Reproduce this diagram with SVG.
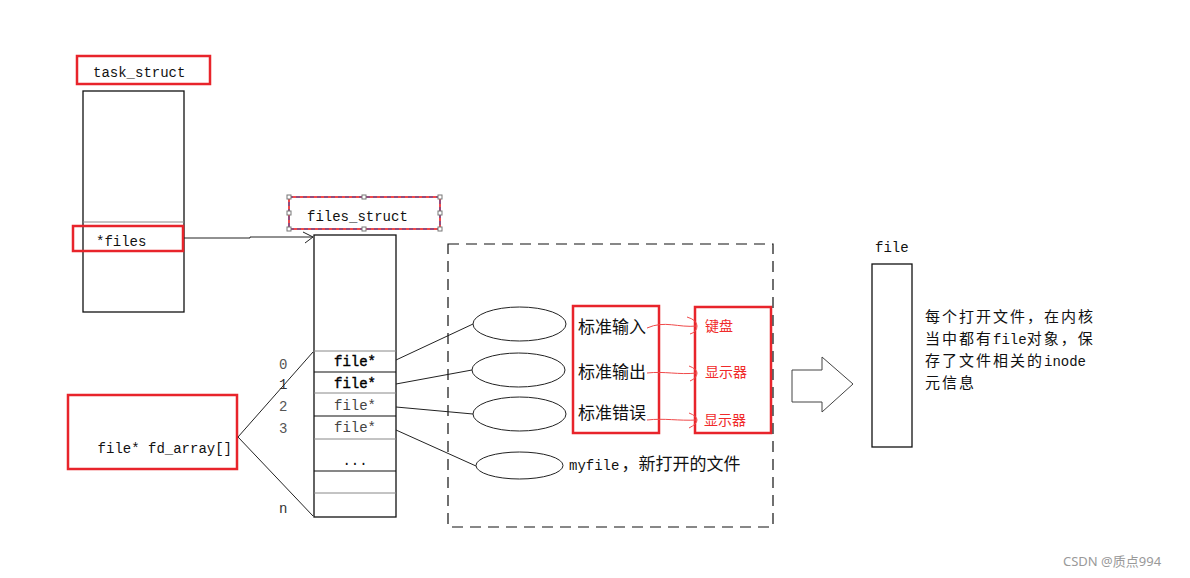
<svg xmlns="http://www.w3.org/2000/svg" width="1190" height="578" viewBox="0 0 1190 578">
<style>
.mono{font-family:"Liberation Mono","DejaVu Sans Mono",monospace;font-size:14px;fill:#111}
.cjk{font-family:"Noto Sans CJK SC","Noto Sans CJK JP",sans-serif;font-size:17px;fill:#111}
.cjk2{font-family:"Noto Sans CJK SC","Noto Sans CJK JP",sans-serif;font-size:15px;letter-spacing:2px;fill:#111}
.red{fill:none;stroke:#e8242b;stroke-width:2.5}
.box{fill:none;stroke:#111;stroke-width:1.3}
.thin{fill:none;stroke:#222;stroke-width:1}
.rtext{font-family:"Noto Sans CJK SC",sans-serif;font-size:14px;fill:#f02a2a}
.rline{fill:none;stroke:#f04a4a;stroke-width:1}
.handle{fill:#fff;stroke:#777;stroke-width:1}
</style>
<rect width="1190" height="578" fill="#fff"/>

<g id="task_struct">
<rect class="red" x="77" y="56" width="133" height="28"/>
<text class="mono" x="93" y="77">task_struct</text>
<rect class="box" x="83" y="91" width="101" height="221"/>
<line x1="83" y1="222" x2="184" y2="222" stroke="#888" stroke-width="1"/>
<line x1="83" y1="251" x2="184" y2="251" stroke="#111" stroke-width="1.3"/>
<rect class="red" x="73" y="226" width="110" height="25"/>
<text class="mono" x="96" y="246">*files</text>
</g>

<g id="files_struct_label">
<rect x="289" y="197" width="151" height="32" fill="none" stroke="#f04a4a" stroke-width="2"/>
<rect x="289" y="197" width="151" height="32" fill="none" stroke="#3a4fb0" stroke-width="1" stroke-dasharray="4,3"/>
<text class="mono" x="307" y="221">files_struct</text>
<rect class="handle" x="287" y="195" width="4" height="4"/>
<rect class="handle" x="362" y="195" width="4" height="4"/>
<rect class="handle" x="438" y="195" width="4" height="4"/>
<rect class="handle" x="287" y="211" width="4" height="4"/>
<rect class="handle" x="438" y="211" width="4" height="4"/>
<rect class="handle" x="287" y="227" width="4" height="4"/>
<rect class="handle" x="362" y="227" width="4" height="4"/>
<rect class="handle" x="438" y="227" width="4" height="4"/>
</g>

<g id="files_struct_table">
<rect class="box" x="314" y="235" width="82" height="282"/>
<line x1="314" y1="351" x2="396" y2="351" stroke="#888"/>
<line x1="314" y1="372" x2="396" y2="372" stroke="#111" stroke-width="1.2"/>
<line x1="314" y1="393" x2="396" y2="393" stroke="#888"/>
<line x1="314" y1="416" x2="396" y2="416" stroke="#111" stroke-width="1.2"/>
<line x1="314" y1="439" x2="396" y2="439" stroke="#888"/>
<line x1="314" y1="471" x2="396" y2="471" stroke="#111" stroke-width="1.2"/>
<line x1="314" y1="493" x2="396" y2="493" stroke="#888"/>
<text class="mono" x="355" y="366" text-anchor="middle" style="fill:#000;stroke:#000;stroke-width:0.4">file*</text>
<text class="mono" x="355" y="388" text-anchor="middle" style="fill:#000;stroke:#000;stroke-width:0.4">file*</text>
<text class="mono" x="355" y="410" text-anchor="middle" style="fill:#444">file*</text>
<text class="mono" x="355" y="432" text-anchor="middle" style="fill:#444">file*</text>
<text class="mono" x="355" y="465" text-anchor="middle">...</text>
</g>

<g id="indices">
<text class="mono" x="279" y="369" style="fill:#555">0</text>
<text class="mono" x="279" y="389" style="fill:#333">1</text>
<text class="mono" x="279" y="411" style="fill:#555">2</text>
<text class="mono" x="279" y="433" style="fill:#555">3</text>
<text class="mono" x="279" y="513" style="fill:#333">n</text>
</g>

<g id="fd_array">
<rect class="red" x="68" y="395" width="169" height="74"/>
<text class="mono" x="232" y="453" text-anchor="end">file* fd_array[]</text>
</g>

<g id="ellipses">
<ellipse class="thin" cx="519.5" cy="324" rx="46.5" ry="17"/>
<ellipse class="thin" cx="518.5" cy="370" rx="46.5" ry="17"/>
<ellipse class="thin" cx="519.5" cy="414" rx="46.5" ry="17"/>
<ellipse class="thin" cx="519.5" cy="465.5" rx="43.5" ry="13.5"/>
<text x="569" y="470"><tspan class="mono">myfile</tspan><tspan class="cjk" dx="2">，新打开的文件</tspan></text>
</g>

<g id="std_box">
<rect class="red" x="573" y="306" width="86" height="127"/>
<text class="cjk" x="578" y="333">标准输入</text>
<text class="cjk" x="578" y="378">标准输出</text>
<text class="cjk" x="578" y="419">标准错误</text>
</g>

<g id="device_box">
<rect class="red" x="695" y="307" width="76" height="126"/>
<text class="rtext" x="705" y="331">键盘</text>
<text class="rtext" x="705" y="377">显示器</text>
<text class="rtext" x="704" y="425">显示器</text>
</g>

<g id="dashed_box">
<rect x="448" y="244" width="325" height="283" fill="none" stroke="#111" stroke-width="1.2" stroke-dasharray="11,7"/>
</g>

<g id="block_arrow">
<path d="M792,370 L822,370 L822,357 L853,384 L822,412 L822,402 L792,402 Z" fill="#fff" stroke="#444" stroke-width="1"/>
</g>

<g id="file_obj">
<text class="mono" x="875" y="252">file</text>
<rect class="box" x="872" y="264" width="40" height="183"/>
<text x="925" y="322" class="cjk2">每个打开文件，在内核</text>
<text x="925" y="344"><tspan class="cjk2">当中都有</tspan><tspan class="mono">file</tspan><tspan class="cjk2">对象，保</tspan></text>
<text x="925" y="366"><tspan class="cjk2">存了文件相关的</tspan><tspan class="mono">inode</tspan></text>
<text x="925" y="388" class="cjk2">元信息</text>
</g>

<g id="connectors">
<polyline class="thin" points="184,238 250,238 250,237 313,237"/>
<path class="thin" d="M303,232 L313,237 L305,243"/>
<line class="thin" x1="238" y1="437" x2="313" y2="352"/>
<line class="thin" x1="238" y1="437" x2="313" y2="516"/>
<line class="thin" x1="396" y1="360" x2="473" y2="324"/>
<line class="thin" x1="396" y1="384" x2="472" y2="370"/>
<line class="thin" x1="396" y1="407" x2="473" y2="414"/>
<line class="thin" x1="396" y1="430" x2="476" y2="466"/>
<path class="rline" d="M647,328 C665,320 678,328 697,326"/>
<path class="rline" d="M687,317 Q697,320 697,326 Q697,332 690,334"/>
<path class="rline" d="M647,373 C665,371 678,375 697,373"/>
<path class="rline" d="M689,366 Q697,369 697,373 Q697,378 690,381"/>
<path class="rline" d="M647,420 C665,418 678,421 697,420"/>
<path class="rline" d="M689,413 Q697,416 697,420 Q697,424 689,428"/>
</g>

<text x="1063" y="566" style="font-family:'Noto Sans','Noto Sans CJK SC',sans-serif;font-size:13px;fill:#999">CSDN @质点994</text>
</svg>
